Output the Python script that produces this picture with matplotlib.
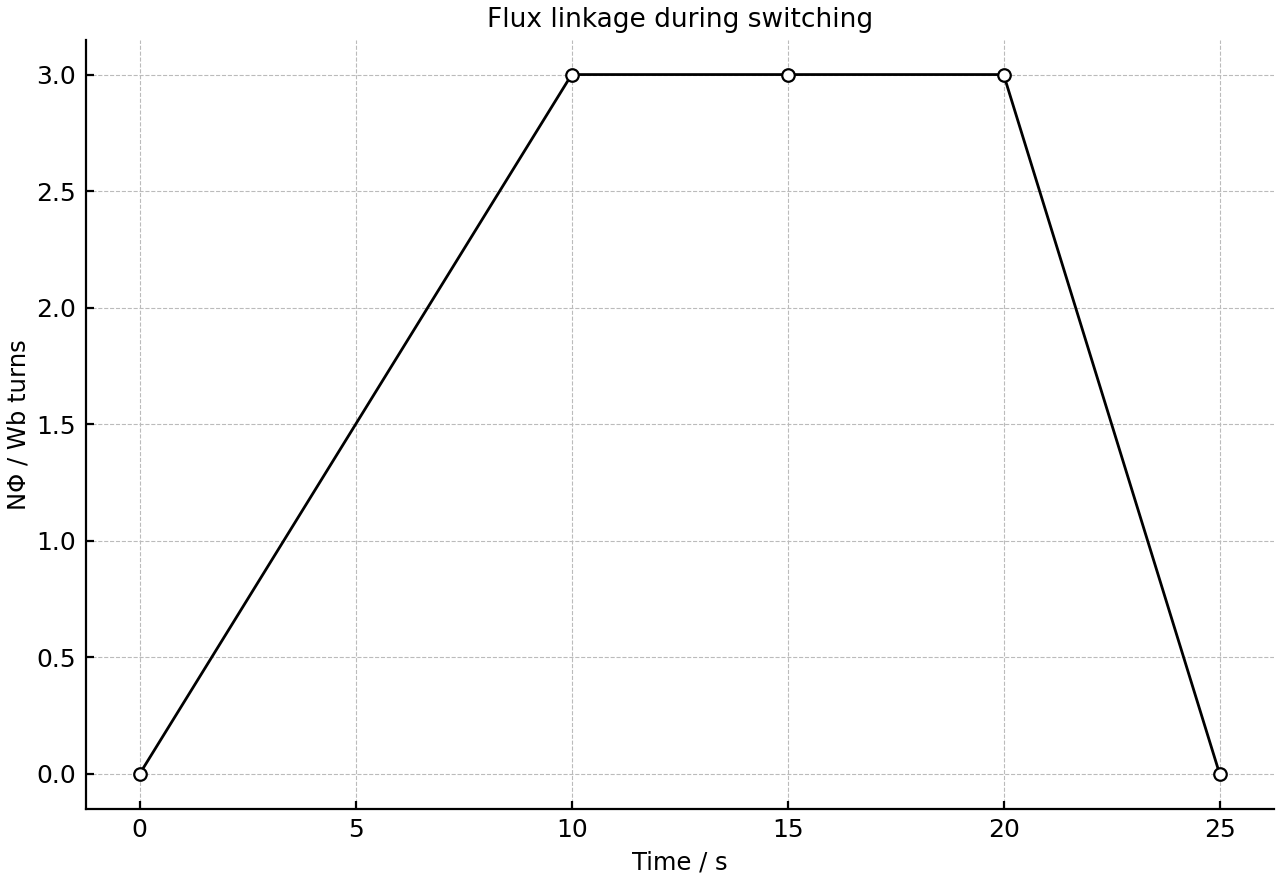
import matplotlib.pyplot as plt

time_s = [0, 10, 15, 20, 25]
flux_linkage = [0.0, 3.0, 3.0, 3.0, 0.0]

fig, ax = plt.subplots(figsize=(12.8, 8.8), dpi=100)
fig.subplots_adjust(left=0.067, right=0.995, top=0.955, bottom=0.081)

ax.plot(time_s, flux_linkage, color="black", linewidth=2.0, marker="o",
        markersize=9, markerfacecolor="white", markeredgecolor="black",
        markeredgewidth=1.6, zorder=3)

ax.set_title("Flux linkage during switching", fontsize=19, pad=9)
ax.set_xlabel("Time / s", fontsize=17.5, labelpad=6)
ax.set_ylabel("NΦ / Wb turns", fontsize=17.5, labelpad=4)
ax.set_xticks([0, 5, 10, 15, 20, 25])
ax.set_yticks([0.0, 0.5, 1.0, 1.5, 2.0, 2.5, 3.0])
ax.tick_params(direction="in", length=6, width=1.6, labelsize=18, pad=7)
ax.grid(True, linestyle="--", color="#bbbbbb", linewidth=0.8)
ax.spines["top"].set_visible(False)
ax.spines["right"].set_visible(False)
ax.spines["left"].set_linewidth(1.6)
ax.spines["bottom"].set_linewidth(1.6)

fig.savefig("out.png", dpi=100)
